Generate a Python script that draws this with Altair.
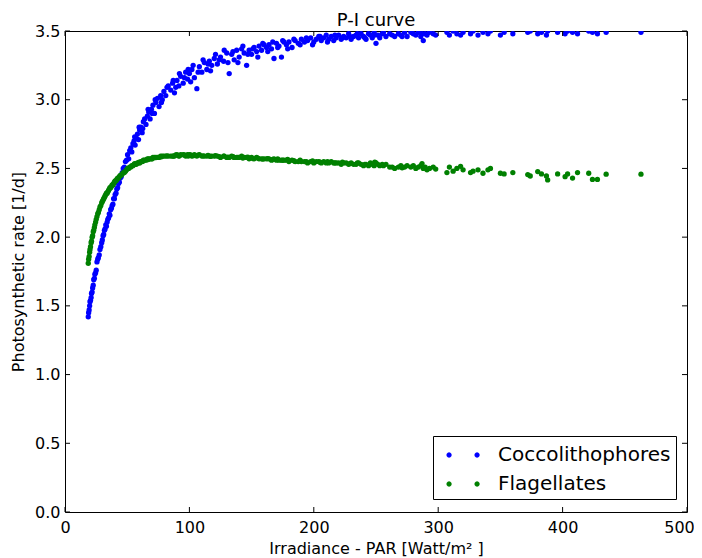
import math
import altair as alt
import pandas as pd

# ---------------- data ----------------
# irradiance (x, shared by both series) and rates, in chunks along x
irr_a = [18.7, 19.0, 19.4, 19.8, 20.1, 20.5, 21.0, 21.3, 21.8, 22.2, 22.7, 23.1,
         23.6, 24.0, 24.6, 25.1, 25.7, 26.3, 26.8, 27.5, 28.1, 28.8, 29.5]
cocco_a = [1.42, 1.45, 1.47, 1.50, 1.53, 1.54, 1.56, 1.59, 1.60, 1.63, 1.65, 1.69,
           1.70, 1.73, 1.74, 1.76, 1.82, 1.84, 1.85, 1.87, 1.91, 1.93, 1.96]
flag_a = [1.81, 1.84, 1.86, 1.89, 1.91, 1.93, 1.96, 1.97, 2.00, 2.01, 2.04, 2.05,
          2.07, 2.09, 2.11, 2.13, 2.15, 2.17, 2.18, 2.20, 2.22, 2.23, 2.25]

irr_b = [30.0, 30.6, 31.1, 31.7, 32.2, 32.8, 33.3, 33.9, 34.4, 35.0, 35.6, 36.1,
         36.7, 37.3, 37.9, 38.5, 39.1, 39.7, 40.3, 41.0, 41.6, 42.3, 43.0, 43.7,
         44.4, 45.2, 46.0, 46.8, 47.7, 48.6, 49.5]
cocco_b = [1.98, 2.01, 2.02, 2.05, 2.06, 2.09, 2.08, 2.11, 2.13, 2.14, 2.17, 2.16,
           2.20, 2.21, 2.23, 2.24, 2.28, 2.28, 2.31, 2.32, 2.35, 2.36, 2.39, 2.40,
           2.43, 2.44, 2.47, 2.50, 2.51, 2.55, 2.56]
flag_b = [2.26, 2.27, 2.28, 2.29, 2.30, 2.31, 2.32, 2.32, 2.33, 2.34, 2.35, 2.36,
          2.36, 2.37, 2.38, 2.38, 2.39, 2.40, 2.41, 2.41, 2.42, 2.43, 2.43, 2.44,
          2.45, 2.45, 2.46, 2.47, 2.47, 2.48, 2.49]

irr_c = [50.3, 51.2, 52.0, 52.9, 53.7, 54.6, 55.5, 56.4, 57.3, 58.2, 59.1, 60.0,
         61.0, 62.0, 63.0, 64.0, 65.1, 66.2, 67.3, 68.4, 69.5, 70.7, 71.9, 73.1,
         74.3, 75.6, 76.9, 78.2, 79.5]
cocco_c = [2.60, 2.57, 2.63, 2.65, 2.62, 2.68, 2.70, 2.67, 2.72, 2.75, 2.71, 2.78,
           2.80, 2.76, 2.84, 2.86, 2.82, 2.88, 2.91, 2.86, 2.93, 2.96, 2.90, 2.98,
           3.01, 2.95, 3.03, 3.00, 3.06]
flag_c = [2.50, 2.50, 2.51, 2.51, 2.52, 2.52, 2.53, 2.53, 2.53, 2.54, 2.54, 2.54,
          2.55, 2.55, 2.56, 2.56, 2.56, 2.57, 2.57, 2.57, 2.57, 2.58, 2.58, 2.58,
          2.58, 2.58, 2.59, 2.59, 2.59]

irr_d = [81, 83, 85, 86.5, 88, 90, 91.5, 93, 95, 97, 98.5, 100, 102, 104, 106,
         108, 110, 112, 114, 116, 118, 120, 122.5, 125, 127.5, 130]
cocco_d = [3.03, 3.10, 3.07, 3.12, 3.05, 3.14, 3.10, 3.17, 3.12, 3.20, 3.15, 3.19,
           3.22, 3.16, 3.08, 3.24, 3.20, 3.27, 3.22, 3.28, 3.25, 3.30, 3.26, 3.31,
           3.28, 3.34]
flag_d = [2.59, 2.59, 2.59, 2.59, 2.59, 2.60, 2.59, 2.60, 2.60, 2.59, 2.60, 2.60,
          2.59, 2.60, 2.59, 2.60, 2.59, 2.59, 2.59, 2.59, 2.59, 2.59, 2.59, 2.58,
          2.59, 2.58]

irr_e = [132, 134, 136, 138, 140, 142, 144, 146, 148, 150, 152, 154, 156, 158, 160,
         162, 164, 166, 168, 170, 172, 174, 176, 178, 180, 182.5, 185, 187.5, 190,
         192.5, 195, 197.5, 200]
cocco_e = [3.19, 3.33, 3.29, 3.36, 3.31, 3.37, 3.34, 3.25, 3.36, 3.33, 3.38, 3.35,
           3.39, 3.36, 3.40, 3.38, 3.40, 3.37, 3.30, 3.41, 3.39, 3.31, 3.42, 3.40,
           3.42, 3.38, 3.43, 3.41, 3.44, 3.42, 3.43, 3.45, 3.42]
flag_e = [2.58, 2.59, 2.58, 2.58, 2.58, 2.59, 2.58, 2.58, 2.57, 2.58, 2.57, 2.58,
          2.57, 2.57, 2.57, 2.57, 2.57, 2.56, 2.57, 2.56, 2.56, 2.56, 2.56, 2.56,
          2.55, 2.56, 2.55, 2.55, 2.55, 2.55, 2.54, 2.55, 2.54]

irr_f = [202, 204, 206, 208, 210, 212, 214, 216, 218, 220, 222, 224, 226, 228, 230,
         232, 234, 236, 238, 240, 242, 244, 245.5, 247, 248.5, 250, 251.5, 253, 255, 258]
cocco_f = [3.44, 3.46, 3.43, 3.45, 3.47, 3.44, 3.46, 3.43, 3.45, 3.47, 3.44, 3.46,
           3.45, 3.48, 3.44, 3.46, 3.47, 3.45, 3.48, 3.46, 3.44, 3.48, 3.47, 3.45,
           3.49, 3.41, 3.47, 3.45, 3.48, 3.46]
flag_f = [2.55, 2.55, 2.54, 2.55, 2.54, 2.54, 2.55, 2.54, 2.54, 2.54, 2.53, 2.54,
          2.54, 2.53, 2.54, 2.53, 2.53, 2.54, 2.53, 2.52, 2.53, 2.52, 2.54, 2.53,
          2.52, 2.54, 2.53, 2.52, 2.53, 2.53]

irr_g = [263, 265, 268, 270, 273, 275, 280, 282, 284, 286, 288, 289.5, 291, 293]
cocco_g = [3.47, 3.46, 3.48, 3.47, 3.49, 3.46, 3.48, 3.47, 3.49, 3.46, 3.43, 3.48,
           3.47, 3.49]
flag_g = [2.51, 2.50, 2.51, 2.52, 2.51, 2.52, 2.52, 2.50, 2.51, 2.52, 2.50, 2.51,
          2.49, 2.50]

irr_h = [296, 307, 309, 312, 315, 318, 320, 326, 328, 332, 336, 340, 342, 350, 353,
         360, 372, 374, 380, 383, 387, 388, 396, 402, 404, 408, 412, 421, 424, 428,
         435, 463]
cocco_h = [3.48, 3.49, 3.47, 3.50, 3.48, 3.47, 3.49, 3.48, 3.50, 3.47, 3.49, 3.48,
           3.50, 3.47, 3.49, 3.48, 3.49, 3.50, 3.48, 3.49, 3.47, 3.50, 3.49, 3.48,
           3.50, 3.49, 3.48, 3.50, 3.49, 3.48, 3.49, 3.49]
flag_h = [2.51, 2.47, 2.51, 2.48, 2.50, 2.515, 2.49, 2.47, 2.48, 2.49, 2.465, 2.49,
          2.50, 2.465, 2.46, 2.47, 2.455, 2.445, 2.477, 2.46, 2.445, 2.416, 2.46,
          2.44, 2.46, 2.43, 2.47, 2.465, 2.42, 2.42, 2.458, 2.458]

# extra observations filling out the scattered middle of the cloud
irr_m = [56, 59.6, 62.5, 66.8, 70.1, 72.5, 77.5, 82, 87, 89, 92, 96, 99, 101, 103,
         107, 111, 115, 117, 121, 124, 128, 131, 135, 139, 143, 147, 151, 155, 159,
         163, 167, 171, 175, 179, 184, 189, 194, 199, 205, 211, 217, 223, 229, 235,
         241, 249, 256, 261, 271, 278, 287, 298]
cocco_m = [2.73, 2.80, 2.79, 2.93, 2.90, 3.00, 2.98, 3.09, 3.14, 3.09, 3.19, 3.16,
           3.22, 3.13, 3.25, 3.20, 3.29, 3.26, 3.21, 3.33, 3.29, 3.36, 3.27, 3.35,
           3.27, 3.39, 3.33, 3.37, 3.31, 3.41, 3.35, 3.42, 3.38, 3.43, 3.37, 3.44,
           3.40, 3.45, 3.40, 3.46, 3.42, 3.47, 3.45, 3.46, 3.48, 3.45, 3.47, 3.49,
           3.48, 3.46, 3.49, 3.48, 3.47]
flag_m = [2.535, 2.545, 2.552, 2.565, 2.57, 2.578, 2.585, 2.592, 2.59, 2.598, 2.592,
          2.598, 2.59, 2.598, 2.593, 2.597, 2.592, 2.595, 2.588, 2.593, 2.586, 2.59,
          2.582, 2.585, 2.58, 2.576, 2.582, 2.572, 2.575, 2.568, 2.572, 2.565, 2.569,
          2.56, 2.565, 2.556, 2.56, 2.55, 2.555, 2.545, 2.55, 2.54, 2.545, 2.535,
          2.54, 2.53, 2.545, 2.52, 2.51, 2.505, 2.51, 2.535, 2.495]

series_names = ["Coccolithophores", "Flagellates"]
series_colors = ["#0000ff", "#008000"]
x_ticks = [0, 100, 200, 300, 400, 500]
y_ticks = [0.0, 0.5, 1.0, 1.5, 2.0, 2.5, 3.0, 3.5]

irradiance = irr_a + irr_b + irr_c + irr_d + irr_e + irr_f + irr_g + irr_h + irr_m
cocco = cocco_a + cocco_b + cocco_c + cocco_d + cocco_e + cocco_f + cocco_g + cocco_h + cocco_m
flag = flag_a + flag_b + flag_c + flag_d + flag_e + flag_f + flag_g + flag_h + flag_m
n = len(irradiance)
assert len(cocco) == n and len(flag) == n

df = pd.DataFrame({
    "irr": irradiance + irradiance,
    "rate": cocco + flag,
    "species": [series_names[0]] * n + [series_names[1]] * n,
})

# ---------------- layout ----------------
W, H = 622, 481
FONT = "DejaVu Sans"
TL = 5  # inward tick length


def ngon(cx, r=0.19, k=12):
    pts = [(cx + r * math.cos(2 * math.pi * i / k), r * math.sin(2 * math.pi * i / k))
           for i in range(k)]
    return "M" + " L".join(f"{x:.3f},{y:.3f}" for x, y in pts) + " Z"


two_dots = ngon(-0.21) + " " + ngon(1.79)

xscale = alt.Scale(domain=[0, 500], nice=False, zero=False)
yscale = alt.Scale(domain=[0, 3.5], nice=False, zero=False)
xaxis = alt.Axis(values=x_ticks, format="d", title="Irradiance - PAR [Watt/m² ]",
                 labelPadding=7, titlePadding=5, labelFlush=False,
                 labelOffset={"condition": {"test": "datum.value == 500", "value": -8},
                              "value": 0})
yaxis = alt.Axis(values=y_ticks, format=".1f", title="Photosynthetic rate [1/d]",
                 labelPadding=5, titlePadding=8, labelFlush=False)

points = alt.Chart(df).mark_circle(size=28, opacity=1, clip=True).encode(
    x=alt.X("irr:Q", scale=xscale, axis=xaxis),
    y=alt.Y("rate:Q", scale=yscale, axis=yaxis),
    color=alt.Color("species:N",
                    scale=alt.Scale(domain=series_names, range=series_colors),
                    legend=alt.Legend(title=None, orient="none",
                                      legendX=368, legendY=405,
                                      symbolType=two_dots, symbolSize=784,
                                      symbolStrokeWidth=0, symbolOpacity=1,
                                      labelFont=FONT, labelFontSize=20,
                                      labelColor="black", labelOffset=32,
                                      labelLimit=400,
                                      padding=5, rowPadding=5,
                                      strokeColor="black", fillColor="white",
                                      cornerRadius=0)),
)

xt = alt.Chart(pd.DataFrame({"irr": x_ticks})).mark_rule(color="black", strokeWidth=1)
yt = alt.Chart(pd.DataFrame({"rate": y_ticks})).mark_rule(color="black", strokeWidth=1)
tick_bottom = xt.encode(x=alt.X("irr:Q", scale=xscale, axis=xaxis),
                        y=alt.value(H), y2=alt.value(H - TL))
tick_top = xt.encode(x=alt.X("irr:Q", scale=xscale, axis=xaxis),
                     y=alt.value(0), y2=alt.value(TL))
tick_left = yt.encode(y=alt.Y("rate:Q", scale=yscale, axis=yaxis),
                      x=alt.value(0), x2=alt.value(TL))
tick_right = yt.encode(y=alt.Y("rate:Q", scale=yscale, axis=yaxis),
                       x=alt.value(W), x2=alt.value(W - TL))

chart = alt.layer(points, tick_bottom, tick_top, tick_left, tick_right).properties(
    width=W, height=H,
    title=alt.TitleParams("P-I curve", font=FONT, fontSize=18, fontWeight="normal",
                          color="black", anchor="middle", offset=-7),
    autosize=alt.AutoSizeParams(type="none"),
    padding={"left": 57, "top": 23, "right": 7, "bottom": 45},
).configure_axis(
    ticks=False, domain=False, grid=False,
    labelFont=FONT, labelFontSize=16, labelColor="black",
    titleFont=FONT, titleFontSize=16, titleColor="black", titleFontWeight="normal",
).configure_view(stroke="black", strokeWidth=1)

chart.save("out.html", embed_options={"renderer": "svg", "actions": False})
